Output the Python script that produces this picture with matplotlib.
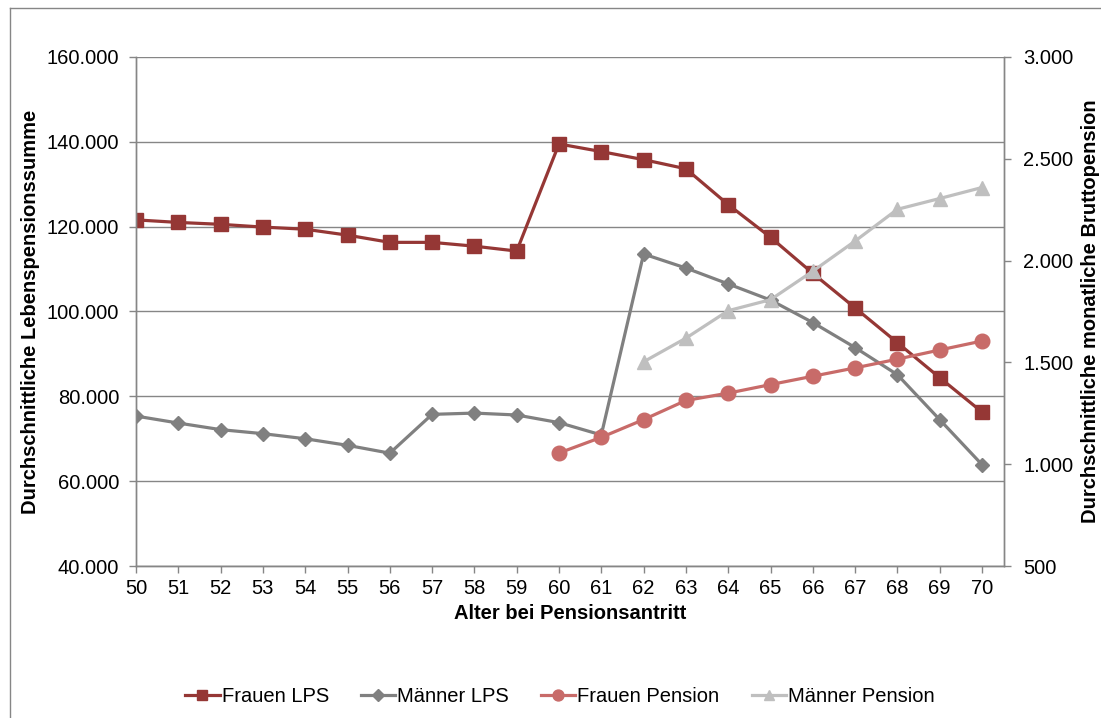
import matplotlib
matplotlib.use('Agg')
import matplotlib.pyplot as plt
from matplotlib.ticker import FuncFormatter
from matplotlib.lines import Line2D

plt.rcParams['font.family'] = ['Liberation Sans', 'DejaVu Sans']

# data
ages = list(range(50, 71))
frauen_lps = [121600, 121000, 120550, 119900, 119400, 118000, 116300, 116300, 115400, 114250,
              139500, 137700, 135800, 133650, 125200, 117500, 109000, 100850, 92650, 84400, 76300]
maenner_lps = [75350, 73700, 72150, 71200, 70000, 68450, 66600, 75750, 76050, 75600,
               73800, 70900, 113550, 110250, 106500, 102700, 97400, 91500, 85100, 74500, 63900]
frauen_pension_ages = list(range(60, 71))
frauen_pension = [1055, 1132, 1219, 1313, 1349, 1391, 1432, 1473, 1516, 1561, 1605]
maenner_pension_ages = list(range(62, 71))
maenner_pension = [1503, 1619, 1754, 1808, 1948, 2096, 2252, 2305, 2359]

c_frauen_lps = '#953735'
c_maenner_lps = '#808080'
c_frauen_pen = '#C86B69'
c_maenner_pen = '#BFBFBF'
axis_col = '#868686'
fs = 14.5


def de_fmt(v, pos):
    return f"{v:,.0f}".replace(',', '.')


fig = plt.figure(figsize=(11.01, 7.18), dpi=100)
ax = fig.add_axes([136 / 1101, 1 - 566 / 718, (1004 - 136) / 1101, (566 - 57) / 718])
ax2 = ax.twinx()

lw = 2.3
h1, = ax.plot(ages, frauen_lps, color=c_frauen_lps, lw=lw, marker='s', ms=10.5, label='Frauen LPS')
h2, = ax.plot(ages, maenner_lps, color=c_maenner_lps, lw=lw, marker='D', ms=7.5, label='Männer LPS')
h3, = ax2.plot(frauen_pension_ages, frauen_pension, color=c_frauen_pen, lw=lw, marker='o', ms=10.5,
               label='Frauen Pension')
h4, = ax2.plot(maenner_pension_ages, maenner_pension, color=c_maenner_pen, lw=lw, marker='^', ms=10.5,
               label='Männer Pension')

ax.set_xlim(50, 70.52)
ax.set_ylim(40000, 160000)
ax2.set_ylim(500, 3000)
ax.set_xticks(ages)
ax.set_yticks(range(40000, 160001, 20000))
ax2.set_yticks(range(500, 3001, 500))
ax.yaxis.set_major_formatter(FuncFormatter(de_fmt))
ax2.yaxis.set_major_formatter(FuncFormatter(de_fmt))

ax.grid(axis='y', color=axis_col, lw=1)
ax.set_axisbelow(True)

for a in (ax, ax2):
    for s in a.spines.values():
        s.set_color(axis_col)
        s.set_linewidth(1)
    a.spines['top'].set_visible(False)
ax.tick_params(axis='y', length=5, width=1, color=axis_col, pad=7, labelsize=fs)
ax.tick_params(axis='x', length=5, width=1, color=axis_col, pad=4, labelsize=fs)
ax2.tick_params(axis='y', length=5, width=1, color=axis_col, pad=9, labelsize=fs)

ax.set_xlabel('Alter bei Pensionsantritt', fontsize=fs, fontweight='bold', labelpad=5)
ax.set_ylabel('Durchschnittliche Lebenspensionssumme', fontsize=fs, fontweight='bold', labelpad=5)
ax2.set_ylabel('Durchschnittliche monatliche Bruttopension', fontsize=fs, fontweight='bold')
ax2.yaxis.set_label_coords((1081 - 136) / 868, 0.5)

fig.legend(handles=[h1, h2, h3, h4], loc='center', bbox_to_anchor=(560 / 1101, 1 - 697 / 718),
           ncol=4, frameon=False, fontsize=fs, handlelength=1.7, handletextpad=0.1,
           columnspacing=1.6, markerscale=0.75)

# outer chart border (only left and top edges fall inside the image)
fig.add_artist(Line2D([9.5 / 1101, 9.5 / 1101], [-0.01, 1 - 7.5 / 718], transform=fig.transFigure,
                      color=axis_col, lw=1))
fig.add_artist(Line2D([9.5 / 1101, 1.01], [1 - 7.5 / 718, 1 - 7.5 / 718], transform=fig.transFigure,
                      color=axis_col, lw=1))

fig.savefig('out.png', dpi=100)
